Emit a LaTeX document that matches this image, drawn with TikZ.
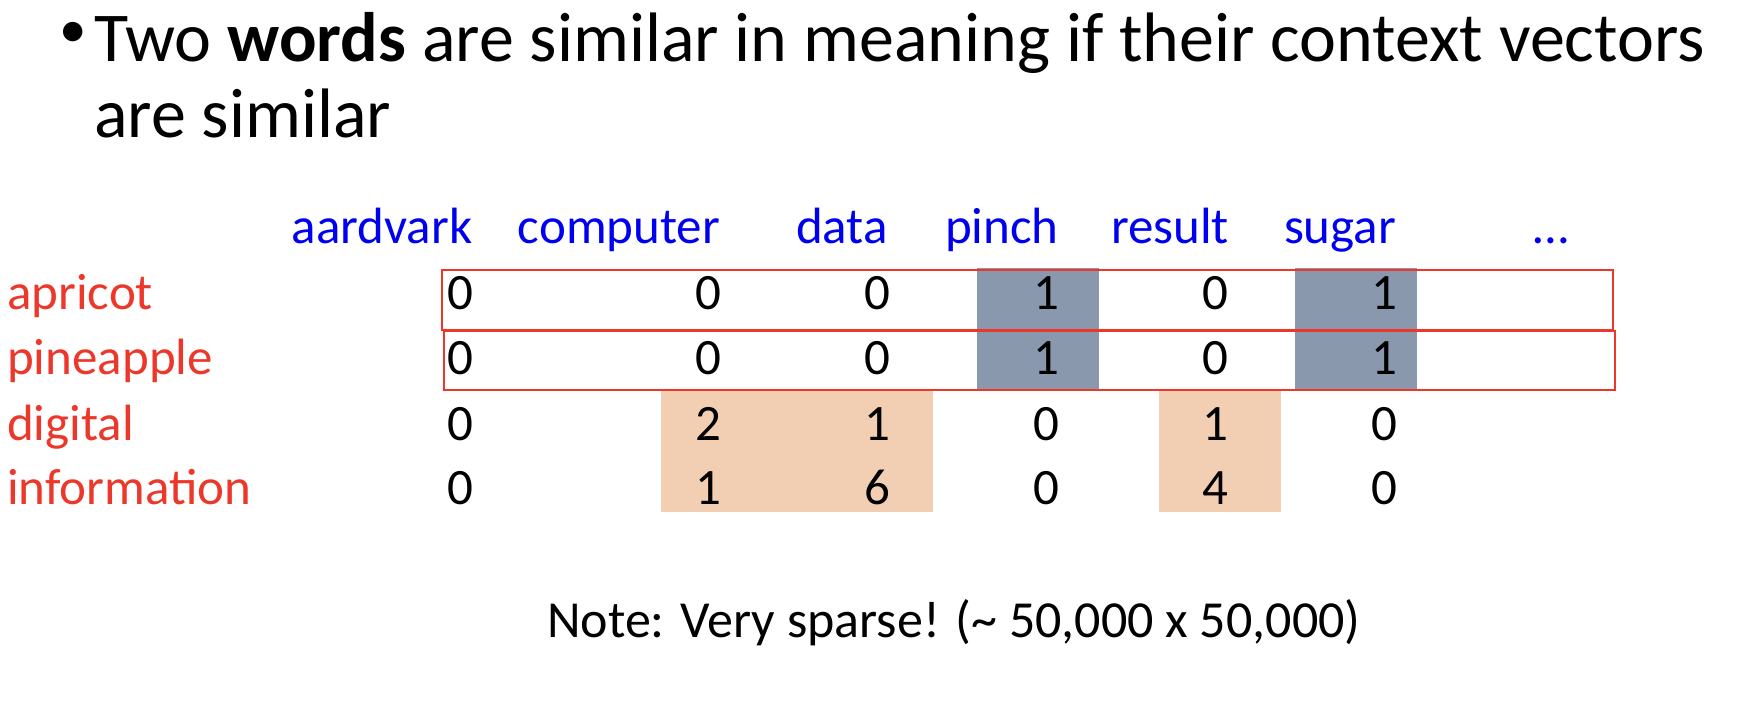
\documentclass[tikz,border=0pt]{standalone}
\usepackage{fontspec}
\setmainfont{Carlito}
\usepackage{tikz}
\usetikzlibrary{positioning}

\definecolor{hdblue}{RGB}{0,0,240}
\definecolor{lblred}{RGB}{236,56,42}
\definecolor{pinchgray}{RGB}{138,152,174}
\definecolor{peach}{RGB}{242,207,178}

\tikzset{
  title/.style={inner sep=0pt, anchor=base west, font=\fontsize{70}{84}\selectfont},
  header/.style={inner sep=0pt, anchor=base, text=hdblue, font=\fontsize{51}{61}\selectfont},
  rowlabel/.style={inner sep=0pt, anchor=base west, text=lblred, font=\fontsize{51}{61}\selectfont},
  cell/.style={inner sep=0pt, anchor=base, font=\fontsize{51}{61}\selectfont},
  note/.style={inner sep=0pt, anchor=base west, font=\fontsize{52}{62}\selectfont}
}

\begin{document}
\begin{tikzpicture}[x=1pt, y=-1pt]
          \useasboundingbox (0,0) rectangle (1738,708);

          \node [title, font=\fontsize{55}{66}\selectfont] (bullet) at (59,48) {•};
          \node [title] (line1) at (94,62) {Two \textbf{words} are similar in meaning if their context vectors};
          \node [title] (line2) at (94,138) {are similar};

          \fill [pinchgray] (977,268) rectangle (1099,390); % pinch column
          \fill [pinchgray] (1295,268) rectangle (1417,390); % sugar column
          \fill [peach] (661,391) rectangle (933,512); % computer and data
          \fill [peach] (1159,391) rectangle (1281,512); % result

          \node [header] (aardvark) at (382,244) {aardvark};
          \node [header] (computer) at (619,244) {computer};
          \node [header] (data) at (842,244) {data};
          \node [header] (pinch) at (1002,244) {pinch};
          \node [header] (result) at (1170,244) {result};
          \node [header] (sugar) at (1340,244) {sugar};
          \node [header] (more) at (1551,244) {…};

          \node [rowlabel] (apricot) at (7,310) {apricot};
          \node [rowlabel] (pineapple) at (7,375) {pineapple};
          \node [rowlabel] (digital) at (7,440) {digital};
          \node [rowlabel] (information) at (7,504) {information};

          \node [cell] (a0) at (460,310) {0};
          \node [cell] (a1) at (708,310) {0};
          \node [cell] (a2) at (877,310) {0};
          \node [cell] (a3) at (1046,310) {1};
          \node [cell] (a4) at (1215,310) {0};
          \node [cell] (a5) at (1384,310) {1};

          \node [cell] (p0) at (460,375) {0};
          \node [cell] (p1) at (708,375) {0};
          \node [cell] (p2) at (877,375) {0};
          \node [cell] (p3) at (1046,375) {1};
          \node [cell] (p4) at (1215,375) {0};
          \node [cell] (p5) at (1384,375) {1};

          \node [cell] (d0) at (460,440) {0};
          \node [cell] (d1) at (708,440) {2};
          \node [cell] (d2) at (877,440) {1};
          \node [cell] (d3) at (1046,440) {0};
          \node [cell] (d4) at (1215,440) {1};
          \node [cell] (d5) at (1384,440) {0};

          \node [cell] (i0) at (460,504) {0};
          \node [cell] (i1) at (708,504) {1};
          \node [cell] (i2) at (877,504) {6};
          \node [cell] (i3) at (1046,504) {0};
          \node [cell] (i4) at (1215,504) {4};
          \node [cell] (i5) at (1384,504) {0};

          \draw [lblred, line width=1.2pt] (442,270) rectangle (1613,330); % apricot row
          \draw [lblred, line width=1.2pt] (444,331) rectangle (1615,390); % pineapple row

          \node [note] (sparse) at (547,637) {Note: Very sparse! (\textasciitilde{} 50,000 x 50,000)};
        \end{tikzpicture}
\end{document}
